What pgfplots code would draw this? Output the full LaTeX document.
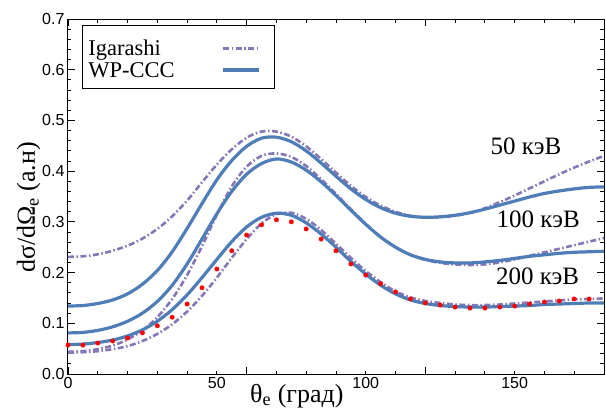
\documentclass[border=0pt]{standalone}
\usepackage{fontspec}
\setmainfont{Liberation Serif}
\newfontfamily\arial{Liberation Sans}
\usepackage{pgfplots}
\pgfplotsset{compat=1.18}
\definecolor{wpblue}{RGB}{79,125,184}
\definecolor{igpurple}{RGB}{135,118,183}
\newcommand{\lgstrut}{\rule[-4pt]{0pt}{24pt}}
\begin{document}
\begin{tikzpicture}
\useasboundingbox (-68pt,-42pt) rectangle (538pt,374pt);
\begin{axis}[
  at={(0,0)}, anchor=south west,
  scale only axis, width=536pt, height=355pt,
  xmin=0, xmax=180, ymin=0, ymax=0.7,
  xtick={0,60,120,180}, xticklabels={},
  extra x ticks={0,50,100,150},
  extra x tick labels={0,50,100,150},
  extra x tick style={major tick length=3pt},
  minor x tick num=5,
  ytick={0,0.1,0.2,0.3,0.4,0.5,0.6,0.7},
  minor y tick num=4,
  yticklabel style={/pgf/number format/.cd, fixed, fixed zerofill, precision=1},
  /pgf/number format/assume math mode=true,
  tick align=inside,
  major tick length=7pt, minor tick length=3.5pt,
  tick style={black, line width=0.8pt},
  axis line style={line width=1pt},
  tick label style={font=\arial\fontsize{16}{16}\selectfont},
  xlabel={θ\textsubscript{e} (град)},
  ylabel={dσ/dΩ\textsubscript{e} (а.н)},
  every axis x label/.style={at={(axis description cs:0.427,-0.0789)}, anchor=base, font=\fontsize{26}{26}\selectfont},
  every axis y label/.style={at={(axis description cs:-0.0616,0.469)}, anchor=base, rotate=90, font=\fontsize{26}{26}\selectfont},
  legend cell align=left,
  legend style={at={(axis description cs:0.0261,0.9831)}, anchor=north west, draw=black, line width=1pt,
    inner xsep=6pt, inner ysep=10pt, font=\fontsize{22.5}{24}\selectfont, row sep=0pt,
    nodes={inner sep=0pt}, cells={anchor=base west}},
  legend plot pos=right,
  legend image code/.code={\draw[#1] (0pt,7pt) -- (36pt,7pt); \path (0pt,0pt) (44pt,0pt);},
  ig/.style={igpurple, line width=2.6pt, dash pattern=on 6pt off 2.5pt on 1.5pt off 2.5pt, smooth},
  wp/.style={wpblue, line width=3.2pt, smooth},
]
% 50 keV
\addplot[ig] coordinates {(0,0.231)(5,0.232)(10,0.236)(15,0.243)(20,0.253)(25,0.267)(30,0.286)(35,0.311)(40,0.342)(45,0.378)(50,0.413)(55,0.443)(60,0.466)(65,0.478)(70,0.478)(75,0.468)(80,0.449)(85,0.424)(90,0.397)(95,0.371)(100,0.349)(105,0.332)(110,0.32)(115,0.312)(120,0.309)(125,0.309)(130,0.312)(135,0.318)(140,0.327)(145,0.339)(150,0.352)(155,0.366)(160,0.38)(165,0.394)(170,0.407)(175,0.419)(180,0.43)};
\addlegendentry{\lgstrut\makebox[133pt][l]{Igarashi}}
\addplot[wp] coordinates {(0,0.134)(5,0.135)(10,0.139)(15,0.146)(20,0.158)(25,0.177)(30,0.204)(35,0.241)(40,0.287)(45,0.336)(50,0.383)(55,0.421)(60,0.449)(65,0.465)(70,0.467)(75,0.458)(80,0.44)(85,0.416)(90,0.39)(95,0.365)(100,0.344)(105,0.328)(110,0.317)(115,0.311)(120,0.309)(125,0.31)(130,0.313)(135,0.318)(140,0.325)(145,0.333)(150,0.341)(155,0.349)(160,0.356)(165,0.361)(170,0.365)(175,0.368)(180,0.369)};
\addlegendentry{\lgstrut\makebox[133pt][l]{WP-CCC}}
% 100 keV
\addplot[ig, forget plot] coordinates {(0,0.044)(5,0.045)(10,0.049)(15,0.056)(20,0.068)(25,0.086)(30,0.112)(35,0.148)(40,0.195)(45,0.252)(50,0.314)(55,0.37)(60,0.409)(65,0.43)(70,0.435)(75,0.428)(80,0.41)(85,0.384)(90,0.355)(95,0.325)(100,0.296)(105,0.27)(110,0.25)(115,0.235)(120,0.225)(125,0.219)(130,0.216)(135,0.215)(140,0.216)(145,0.22)(150,0.226)(155,0.233)(160,0.24)(165,0.247)(170,0.254)(175,0.261)(180,0.268)};
\addplot[wp, forget plot] coordinates {(0,0.081)(5,0.082)(10,0.086)(15,0.093)(20,0.104)(25,0.12)(30,0.143)(35,0.175)(40,0.217)(45,0.266)(50,0.316)(55,0.36)(60,0.394)(65,0.415)(70,0.424)(75,0.418)(80,0.402)(85,0.379)(90,0.352)(95,0.323)(100,0.295)(105,0.27)(110,0.25)(115,0.235)(120,0.226)(125,0.221)(130,0.219)(135,0.219)(140,0.221)(145,0.224)(150,0.228)(155,0.232)(160,0.235)(165,0.238)(170,0.24)(175,0.241)(180,0.242)};
% 200 keV
\addplot[ig, forget plot] coordinates {(0,0.042)(5,0.043)(10,0.045)(15,0.049)(20,0.055)(25,0.065)(30,0.079)(35,0.098)(40,0.123)(45,0.154)(50,0.19)(55,0.229)(60,0.266)(65,0.297)(70,0.315)(75,0.318)(80,0.306)(85,0.284)(90,0.257)(95,0.229)(100,0.203)(105,0.181)(110,0.163)(115,0.151)(120,0.144)(125,0.14)(130,0.137)(135,0.136)(140,0.136)(145,0.137)(150,0.139)(155,0.141)(160,0.143)(165,0.145)(170,0.147)(175,0.148)(180,0.149)};
\addplot[wp, forget plot] coordinates {(0,0.058)(5,0.059)(10,0.062)(15,0.067)(20,0.075)(25,0.087)(30,0.104)(35,0.127)(40,0.156)(45,0.19)(50,0.226)(55,0.261)(60,0.29)(65,0.309)(70,0.317)(75,0.313)(80,0.298)(85,0.276)(90,0.25)(95,0.222)(100,0.197)(105,0.175)(110,0.158)(115,0.146)(120,0.139)(125,0.135)(130,0.133)(135,0.132)(140,0.132)(145,0.133)(150,0.134)(155,0.135)(160,0.137)(165,0.138)(170,0.139)(175,0.14)(180,0.14)};
% experiment
\addplot[only marks, mark=*, mark size=2.2pt, color=red, forget plot] coordinates {(0,0.057)(5,0.057)(10,0.061)(15,0.065)(20,0.071)(25,0.081)(30,0.095)(35,0.112)(40,0.138)(45,0.17)(50,0.207)(55,0.243)(60,0.274)(65,0.294)(70,0.304)(75,0.30)(80,0.286)(85,0.266)(90,0.243)(95,0.217)(100,0.195)(105,0.178)(110,0.162)(115,0.148)(120,0.14)(125,0.136)(130,0.132)(135,0.13)(140,0.13)(145,0.132)(150,0.134)(155,0.138)(160,0.142)(165,0.144)(170,0.148)(175,0.148)};
\node[anchor=base, font=\fontsize{25}{25}\selectfont] at (axis cs:153.8,0.432) {50 кэВ};
\node[anchor=base, font=\fontsize{25}{25}\selectfont] at (axis cs:157.9,0.288) {100 кэВ};
\node[anchor=base, font=\fontsize{25}{25}\selectfont] at (axis cs:157.7,0.1755) {200 кэВ};
\end{axis}
\end{tikzpicture}
\end{document}
